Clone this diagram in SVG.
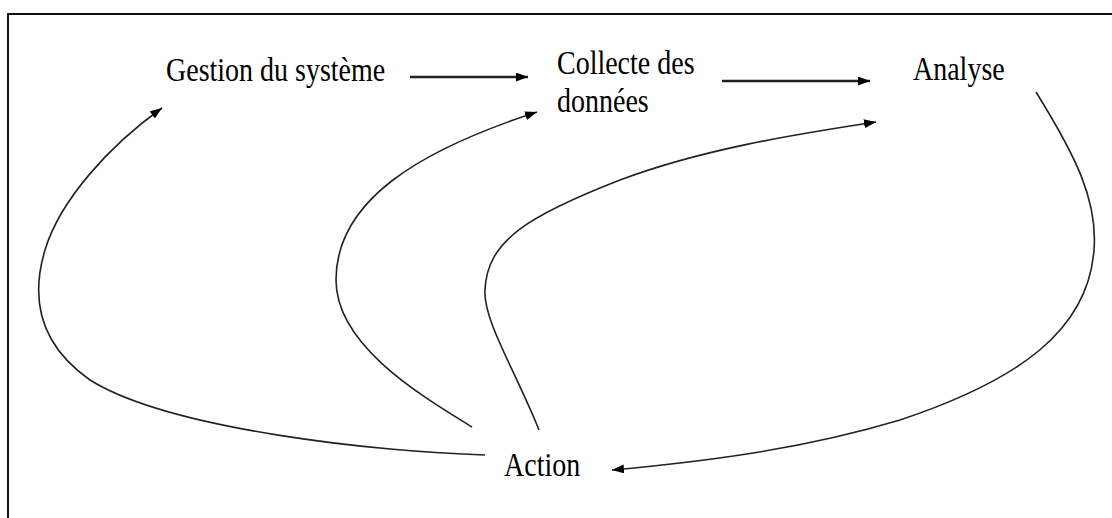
<svg xmlns="http://www.w3.org/2000/svg" width="1112" height="518" viewBox="0 0 1112 518">
<style>
text{font-family:'Liberation Serif','Times New Roman','DejaVu Serif',serif;font-size:28px;fill:#000}
.c{fill:none;stroke:#222;stroke-width:1.6}
.s{fill:none;stroke:#222;stroke-width:2.6}
</style>
<defs>
<marker id="ah" markerUnits="userSpaceOnUse" markerWidth="14" markerHeight="10" refX="12" refY="4.5" orient="auto">
<path d="M0,0 L12,4.5 L0,9 z" fill="#000"/>
</marker>
</defs>
<rect x="0" y="0" width="1112" height="518" fill="#fff"/>
<g id="frame" fill="none" stroke="#111" stroke-width="2">
<path d="M8,518 L8,14 L1112,14"/>
</g>
<g id="n-gestion"><text transform="translate(166,81) scale(1,1.2)">Gestion du système</text></g>
<g id="n-collecte"><text transform="translate(557,74) scale(1,1.2)">Collecte des</text><text transform="translate(557,112) scale(1,1.2)">données</text></g>
<g id="n-analyse"><text transform="translate(913,80) scale(1,1.2)">Analyse</text></g>
<g id="n-action"><text transform="translate(504,476) scale(1,1.2)">Action</text></g>
<g id="connectors">
<path class="s" d="M410,77 L528,77" marker-end="url(#ah)"/>
<path class="s" d="M722,81 L870,81" marker-end="url(#ah)"/>
<path class="c" d="M485,455 C380,452 170,430 90,380 C40,345 30,300 45,250 C60,200 110,145 162,108" marker-end="url(#ah)"/>
<path class="c" d="M472,427 C420,395 336,345 336,280 C336,200 420,150 537,112" marker-end="url(#ah)"/>
<path class="c" d="M539,430 C515,370 483,320 485,290 C487,240 530,215 620,180 C700,150 790,135 876,122" marker-end="url(#ah)"/>
<path class="c" d="M1036,92 C1075,155 1098,200 1094,250 C1088,330 1020,380 900,420 C800,450 700,462 612,470" marker-end="url(#ah)"/>
</g>
</svg>
